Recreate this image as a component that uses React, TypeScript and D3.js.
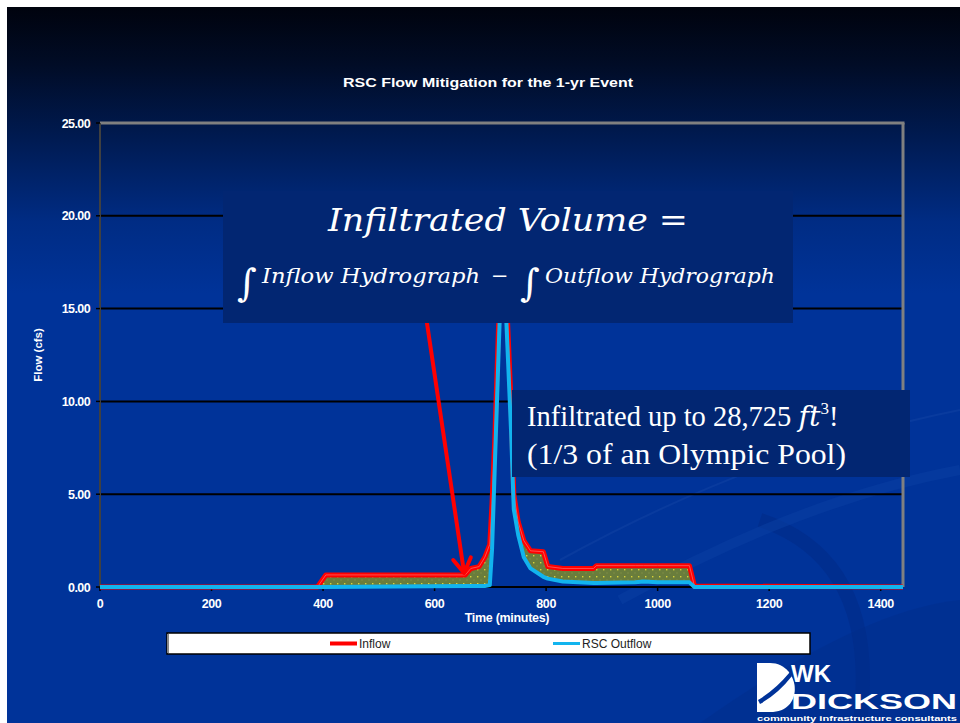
import React from 'react';
import * as d3 from 'd3';

// minutes since start of the event
const times = [0, 390, 405, 655, 665, 680, 690, 699, 703, 708, 713, 718, 722, 727, 732, 737, 742, 750, 760, 772, 795, 803, 830, 885, 890, 960, 975, 1000, 1057, 1066, 1440];
// flows in cfs
const inflow = [0, 0, 0.65, 0.65, 1.0, 1.1, 1.6, 2.3, 4.5, 8.0, 12.5, 17.0, 19.0, 17.0, 13.5, 10.0, 5.0, 3.5, 2.5, 1.95, 1.9, 1.1, 1.0, 1.0, 1.15, 1.15, 1.15, 1.15, 1.15, 0.05, 0];
const outflow = [0, 0, 0, 0.05, 0.05, 0.05, 0.05, 0.1, 2.0, 6.5, 11.0, 15.5, 17.5, 15.5, 12.0, 8.5, 4.2, 2.8, 1.6, 1.0, 0.55, 0.45, 0.3, 0.22, 0.22, 0.25, 0.3, 0.25, 0.25, 0, 0];

const yTicks = [0, 5, 10, 15, 20, 25];
const xTicks = [0, 200, 400, 600, 800, 1000, 1200, 1400];
const seriesNames = ['Inflow', 'RSC Outflow'];
const seriesColors = ['#ff0000', '#12b4ee'];

// arrow annotation, in data units
const arrowFrom = { t: 580, v: 15.5 };
const arrowTo = { t: 653, v: 0.75 };

const W = 960;
const H = 723;

const App: React.FC = () => {
  const x = d3.scaleLinear().domain([0, 1440]).range([100, 903]);
  const y = d3.scaleLinear().domain([0, 25]).range([587, 123]);

  const rows = times.map((t, i) => ({ t, inn: inflow[i], out: outflow[i] }));

  const lineIn = d3.line<any>().x(d => x(d.t)).y(d => y(d.inn));
  const lineOut = d3.line<any>().x(d => x(d.t)).y(d => y(d.out));
  const between = d3.area<any>().x(d => x(d.t)).y0(d => y(d.out)).y1(d => y(d.inn));

  const ax0 = x(arrowFrom.t), ay0 = y(arrowFrom.v);
  const ax1 = x(arrowTo.t), ay1 = y(arrowTo.v);
  const ang = Math.atan2(ay1 - ay0, ax1 - ax0);
  const headLen = 17;
  const h1 = [ax1 - headLen * Math.cos(ang - 0.55), ay1 - headLen * Math.sin(ang - 0.55)];
  const h2 = [ax1 - headLen * Math.cos(ang + 0.55), ay1 - headLen * Math.sin(ang + 0.55)];

  const axisFont = '"Liberation Sans", Arial, sans-serif';
  const mathFont = '"DejaVu Serif", "Liberation Serif", serif';
  const bodyFont = '"Liberation Serif", "DejaVu Serif", serif';

  return (
    <svg width={W} height={H} style={{ position: 'absolute', left: 0, top: 0 }}>
      <defs>
        <linearGradient id="bg" x1="0" y1="0" x2="0" y2="1" gradientUnits="objectBoundingBox">
          <stop offset="0" stopColor="#00030e" />
          <stop offset="0.08" stopColor="#010c26" />
          <stop offset="0.18" stopColor="#001a50" />
          <stop offset="0.3" stopColor="#002c84" />
          <stop offset="0.4" stopColor="#003399" />
          <stop offset="1" stopColor="#003399" />
        </linearGradient>
        <pattern id="dots" width="7" height="7" patternUnits="userSpaceOnUse">
          <rect width="7" height="7" fill="#6a7d3c" />
          <rect x="1" y="2" width="1.4" height="1.4" fill="#d7d23a" />
          <rect x="4.5" y="5.5" width="1" height="1" fill="#8f9a4c" />
        </pattern>
      </defs>

      {/* slide */}
      <rect x={0} y={0} width={W} height={H} fill="#ffffff" />
      <rect x={7} y={7} width={W - 7} height={H - 7} fill="url(#bg)" />
      {/* subtle swooshes */}
      <path d="M 560 560 Q 760 450 960 410" fill="none" stroke="#1a4aa8" strokeOpacity={0.35} strokeWidth={2} />
      <path d="M 700 723 Q 860 610 960 600 L 960 723 Z" fill="#002f8e" fillOpacity={0.6} />
      <path d="M 760 520 Q 880 560 860 723" fill="none" stroke="#002a85" strokeWidth={14} strokeOpacity={0.5} />
      <path d="M 620 600 Q 800 500 960 470" fill="none" stroke="#0a3fa3" strokeOpacity={0.5} strokeWidth={10} />

      {/* title */}
      <text x={488} y={87} textAnchor="middle" fill="#fff" fontFamily={axisFont} fontWeight="bold" fontSize={12.5} textLength={290} lengthAdjust="spacingAndGlyphs">
        RSC Flow Mitigation for the 1-yr Event
      </text>

      {/* grid */}
      {yTicks.filter(v => v > 0 && v < 25).map(v => (
        <line key={v} x1={x(0)} x2={x(1440)} y1={y(v)} y2={y(v)} stroke="#000" strokeWidth={2} />
      ))}
      {/* frame */}
      <line x1={x(0)} x2={x(1440) + 1.5} y1={y(25)} y2={y(25)} stroke="#808080" strokeWidth={3} />
      <line x1={x(1440)} x2={x(1440)} y1={y(25)} y2={y(0)} stroke="#808080" strokeWidth={3} />
      <line x1={x(0)} x2={x(0)} y1={y(25)} y2={y(0)} stroke="#404040" strokeWidth={2} />
      <line x1={x(0)} x2={x(1440)} y1={y(0)} y2={y(0)} stroke="#000" strokeWidth={2} />

      {/* y ticks */}
      {yTicks.map(v => (
        <g key={v}>
          <line x1={x(0) - 4} x2={x(0)} y1={y(v)} y2={y(v)} stroke="#000" strokeWidth={1.5} />
          <text x={90} y={y(v) + 4.5} textAnchor="end" fill="#fff" fontFamily={axisFont} fontWeight="bold" fontSize={12.5} letterSpacing={-0.6}>
            {v.toFixed(2)}
          </text>
        </g>
      ))}
      {/* x ticks */}
      {xTicks.map(t => (
        <g key={t}>
          <line x1={x(t)} x2={x(t)} y1={y(0)} y2={y(0) + 4} stroke="#000" strokeWidth={1.5} />
          <text x={x(t)} y={608} textAnchor="middle" fill="#fff" fontFamily={axisFont} fontWeight="bold" fontSize={12.5} letterSpacing={-0.4}>
            {t}
          </text>
        </g>
      ))}
      <text x={507} y={622} textAnchor="middle" fill="#fff" fontFamily={axisFont} fontWeight="bold" fontSize={12.5} letterSpacing={-0.3}>
        Time (minutes)
      </text>
      <text transform={`translate(42,${355}) rotate(-90)`} textAnchor="middle" fill="#fff" fontFamily={axisFont} fontWeight="bold" fontSize={11.5}>
        Flow (cfs)
      </text>

      {/* volume between hydrographs */}
      <path d={between(rows) || ''} fill="url(#dots)" />
      <path d={lineIn(rows) || ''} fill="none" stroke={seriesColors[0]} strokeWidth={5} strokeLinejoin="round" />
      <path d={lineIn(rows) || ''} fill="none" stroke="#ff8080" strokeWidth={1} strokeOpacity={0.6} />
      <path d={lineOut(rows) || ''} fill="none" stroke={seriesColors[1]} strokeWidth={4} strokeLinejoin="round" />

      {/* arrow */}
      <line x1={ax0} y1={ay0} x2={ax1} y2={ay1} stroke="#ff0000" strokeWidth={4} />
      <polyline points={`${h1[0]},${h1[1]} ${ax1},${ay1} ${h2[0]},${h2[1]}`} fill="none" stroke="#ff0000" strokeWidth={4} strokeLinecap="round" strokeLinejoin="round" />

      {/* equation box */}
      <rect x={223} y={191} width={570} height={132} fill="#022672" />
      <text x={508} y={231} textAnchor="middle" fill="#fff" fontFamily={mathFont} fontStyle="italic" fontSize={31} textLength={360} lengthAdjust="spacingAndGlyphs">
        Infiltrated Volume =
      </text>
      <text x={237} y={296} fill="#fff" fontFamily={mathFont} fontSize={38}>∫</text>
      <text x={262} y={283} fill="#fff" fontFamily={mathFont} fontStyle="italic" fontSize={21} textLength={218} lengthAdjust="spacingAndGlyphs">
        Inflow  Hydrograph
      </text>
      <text x={491} y={283} fill="#fff" fontFamily={mathFont} fontSize={21}>−</text>
      <text x={520} y={296} fill="#fff" fontFamily={mathFont} fontSize={38}>∫</text>
      <text x={545} y={283} fill="#fff" fontFamily={mathFont} fontStyle="italic" fontSize={21} textLength={230} lengthAdjust="spacingAndGlyphs">
        Outflow Hydrograph
      </text>

      {/* result box */}
      <rect x={512} y={390} width={398} height={87} fill="#022672" />
      <text x={527} y={426} fill="#fff" fontFamily={bodyFont} fontSize={28.5}>
        Infiltrated up to 28,725 <tspan fontFamily={mathFont} fontStyle="italic">ft</tspan>
        <tspan fontSize={17} dy={-12}>3</tspan>
        <tspan dy={12}>!</tspan>
      </text>
      <text x={527} y={464} fill="#fff" fontFamily={bodyFont} fontSize={28.5} textLength={319} lengthAdjust="spacingAndGlyphs">
        (1/3 of an Olympic Pool)
      </text>

      {/* legend */}
      <rect x={167} y={633} width={643} height={21} fill="#fff" stroke="#000" strokeWidth={1.5} />
      <line x1={168} x2={168} y1={634} y2={653} stroke="#888" strokeWidth={2} />
      {seriesNames.map((name, i) => {
        const lx = i === 0 ? 330 : 553;
        return (
          <g key={name}>
            <line x1={lx} x2={lx + 27} y1={643.5} y2={643.5} stroke={seriesColors[i]} strokeWidth={i === 0 ? 4 : 3} />
            <text x={lx + 29} y={648} fill="#222" fontFamily={axisFont} fontSize={12}>{name}</text>
          </g>
        );
      })}

      {/* logo */}
      <g fill="#fff">
        <path d="M 757 663 L 770 663 C 800 663 806 712 770 712 L 757 712 Z" />
        <path d="M 758 700 Q 775 690 790 672 L 792 676 Q 778 694 760 704 Z" fill="#003399" />
        <text x={791} y={682} fontFamily={axisFont} fontWeight="bold" fontSize={23} textLength={40} lengthAdjust="spacingAndGlyphs">WK</text>
        <text x={791} y={709} fontFamily={axisFont} fontWeight="bold" fontSize={22} textLength={166} lengthAdjust="spacingAndGlyphs">DICKSON</text>
        <text x={757} y={721} fontFamily={axisFont} fontWeight="bold" fontSize={7} textLength={200} lengthAdjust="spacingAndGlyphs">community infrastructure consultants</text>
      </g>
    </svg>
  );
};

export default App;
